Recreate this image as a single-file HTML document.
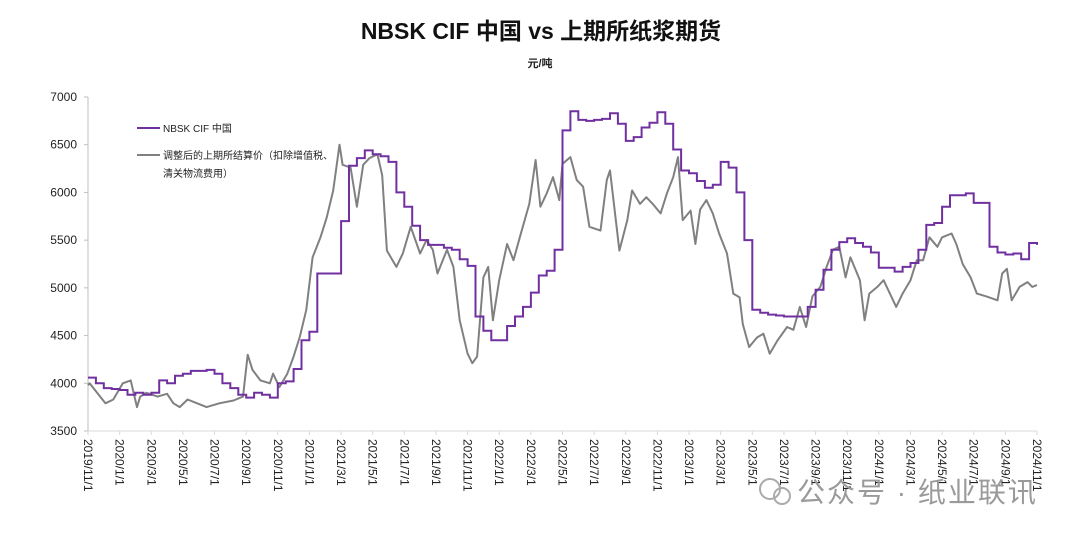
<!DOCTYPE html>
<html><head><meta charset="utf-8"><style>
body{margin:0;background:#fff;}
svg{display:block;font-family:"Liberation Sans","Noto Sans CJK SC",sans-serif;}
</style></head><body>
<svg id="chart" width="1080" height="535" viewBox="0 0 1080 535">
<text x="541" y="39" text-anchor="middle" font-size="23" font-weight="bold" fill="#111">NBSK CIF 中国 vs 上期所纸浆期货</text>
<text x="540" y="67" text-anchor="middle" font-size="11" font-weight="bold" fill="#222">元/吨</text>
<g id="axes"></g>
<g id="series"></g>
<g>
<line x1="137" y1="128" x2="160" y2="128" stroke="#7030a0" stroke-width="2"/>
<text x="163" y="132" font-size="10" fill="#222">NBSK CIF 中国</text>
<line x1="137" y1="155" x2="160" y2="155" stroke="#808080" stroke-width="2"/>
<text x="163" y="159" font-size="10" fill="#222">调整后的上期所结算价（扣除增值税、</text>
<text x="163" y="177" font-size="10" fill="#222">清关物流费用）</text>
</g>
<g>
<circle cx="770" cy="489" r="10" fill="none" stroke="#aaa" stroke-width="2"/>
<circle cx="782" cy="496" r="8" fill="none" stroke="#aaa" stroke-width="2"/>
<text x="797" y="502" font-size="28" letter-spacing="2" fill="#9a9a9a">公众号 · 纸业联讯</text>
</g>
</svg>
<script>
const yTicks=[3500,4000,4500,5000,5500,6000,6500,7000];
const xTickLabels=["2019/11/1","2020/1/1","2020/3/1","2020/5/1","2020/7/1","2020/9/1","2020/11/1","2021/1/1","2021/3/1","2021/5/1","2021/7/1","2021/9/1","2021/11/1","2022/1/1","2022/3/1","2022/5/1","2022/7/1","2022/9/1","2022/11/1","2023/1/1","2023/3/1","2023/5/1","2023/7/1","2023/9/1","2023/11/1","2024/1/1","2024/3/1","2024/5/1","2024/7/1","2024/9/1","2024/11/1"];
const nbskMonths=[0,0.5,1,1.5,2,2.5,3,3.5,4,4.5,5,5.5,6,6.5,7,7.5,8,8.5,9,9.5,10,10.5,11,11.5,12,12.5,13,13.5,14,14.5,15,15.5,16,16.5,17,17.5,18,18.5,19,19.5,20,20.5,21,21.5,22,22.5,23,23.5,24,24.5,25,25.5,26,26.5,27,27.5,28,28.5,29,29.5,30,30.5,31,31.5,32,32.5,33,33.5,34,34.5,35,35.5,36,36.5,37,37.5,38,38.5,39,39.5,40,40.5,41,41.5,42,42.5,43,43.5,44,44.5,45,45.5,46,46.5,47,47.5,48,48.5,49,49.5,50,50.5,51,51.5,52,52.5,53,53.5,54,54.5,55,55.5,56,56.5,57,57.5,58,58.5,59,59.5,60];
const nbskValues=[4060,4000,3950,3940,3930,3880,3900,3880,3900,4030,4000,4080,4100,4130,4130,4140,4100,4000,3950,3880,3850,3900,3880,3850,4000,4020,4150,4450,4540,5150,5150,5150,5700,6280,6360,6440,6400,6380,6320,6000,5850,5650,5500,5450,5450,5420,5400,5300,5230,4700,4550,4450,4450,4600,4700,4800,4950,5130,5180,5400,6650,6850,6760,6750,6760,6770,6830,6720,6540,6580,6680,6730,6840,6720,6450,6230,6200,6120,6050,6080,6320,6260,6000,5500,4770,4740,4720,4710,4700,4700,4700,4800,4980,5190,5400,5480,5520,5470,5430,5370,5210,5210,5170,5220,5260,5400,5660,5680,5850,5970,5970,5990,5890,5890,5430,5370,5350,5360,5300,5470,5450];
const futMonths=[0,0.1,1.1,1.6,2.2,2.7,3.1,3.3,3.7,4.4,5.0,5.4,5.8,6.3,6.9,7.5,8.3,9.2,9.8,10.1,10.4,10.9,11.5,11.7,12.1,12.6,13.0,13.4,13.8,14.2,14.7,15.1,15.5,15.9,16.1,16.6,17.0,17.4,17.8,18.3,18.6,18.9,19.5,19.9,20.4,21.0,21.4,21.8,22.1,22.7,23.1,23.5,24.0,24.3,24.6,25.0,25.3,25.6,26.0,26.5,26.9,27.3,27.9,28.3,28.6,29.0,29.4,29.8,30.0,30.5,30.9,31.3,31.7,32.4,32.8,33.0,33.6,34.1,34.4,34.9,35.3,35.7,36.2,36.6,37.0,37.3,37.6,38.1,38.4,38.7,39.1,39.5,39.9,40.4,40.8,41.2,41.4,41.8,42.3,42.7,43.1,43.6,44.2,44.6,45.0,45.4,45.8,46.3,46.7,47.1,47.5,47.9,48.2,48.8,49.1,49.4,49.9,50.3,50.7,51.1,51.5,52.0,52.4,52.8,53.2,53.7,54.0,54.6,54.9,55.3,55.8,56.2,56.8,57.5,57.8,58.1,58.4,58.9,59.4,59.7,60];
const futValues=[3980,4000,3790,3830,4000,4030,3750,3860,3900,3860,3890,3790,3750,3830,3790,3750,3790,3820,3860,4300,4140,4030,4000,4100,3960,4100,4280,4490,4770,5320,5530,5740,6020,6500,6290,6260,5850,6290,6360,6400,6180,5390,5220,5360,5640,5360,5500,5400,5150,5400,5220,4660,4310,4210,4280,5110,5220,4660,5080,5460,5290,5530,5880,6340,5850,5990,6160,5920,6300,6370,6130,6060,5640,5600,6130,6230,5390,5710,6020,5880,5950,5880,5780,5990,6160,6370,5710,5810,5460,5820,5920,5780,5570,5360,4940,4900,4620,4380,4480,4520,4310,4450,4590,4560,4800,4590,4910,5010,5220,5400,5430,5110,5320,5080,4660,4940,5010,5080,4940,4800,4940,5080,5290,5290,5530,5430,5530,5570,5460,5250,5110,4940,4910,4870,5150,5200,4870,5010,5060,5010,5030];

const NS='http://www.w3.org/2000/svg';
const X0=88,X1=1037,Y0=431,Y1=97;
function xs(m){return X0+(m/60)*(X1-X0);}
function ys(v){return Y0-(v-3500)/3500*(Y0-Y1);}
function mk(tag,attrs,parent){const e=document.createElementNS(NS,tag);for(const k in attrs)e.setAttribute(k,attrs[k]);parent.appendChild(e);return e;}
const ax=document.getElementById('axes');
const yl=mk('line',{x1:X0,y1:Y1,x2:X0,y2:Y0,stroke:'#bfbfbf'},ax);


const xl=mk('line',{x1:X0,y1:Y0,x2:X1,y2:Y0,stroke:'#d9d9d9'},ax);


yTicks.forEach(v=>{
  const y=ys(v);
  mk('line',{x1:X0-4,y1:y,x2:X0,y2:y,stroke:'#bfbfbf'},ax);
  const t=mk('text',{x:77,y:y+4,'text-anchor':'end','font-size':12,fill:'#222'},ax);
  t.textContent=v;
  
  
});
xTickLabels.forEach((s,i)=>{
  const x=xs(i*2);
  mk('line',{x1:x,y1:Y0,x2:x,y2:Y0+4,stroke:'#d9d9d9'},ax);
  const t=mk('text',{x:0,y:0,'font-size':12,fill:'#222',transform:`translate(${x-4},439) rotate(90)`},ax);
  t.textContent=s;
  
  
});
const sg=document.getElementById('series');
let d='';futMonths.forEach((m,i)=>{d+=(i?'L':'M')+xs(m).toFixed(1)+','+ys(futValues[i]).toFixed(1);});
const fp=mk('path',{d:d,fill:'none',stroke:'#808080','stroke-width':2,'stroke-linejoin':'round'},sg);


let d2='';nbskMonths.forEach((m,i)=>{const x=xs(m).toFixed(1),y=ys(nbskValues[i]).toFixed(1);if(i===0)d2+='M'+x+','+y;else d2+='H'+x+'V'+y;});
const np=mk('path',{d:d2,fill:'none',stroke:'#7030a0','stroke-width':2},sg);


</script>
</body></html>
